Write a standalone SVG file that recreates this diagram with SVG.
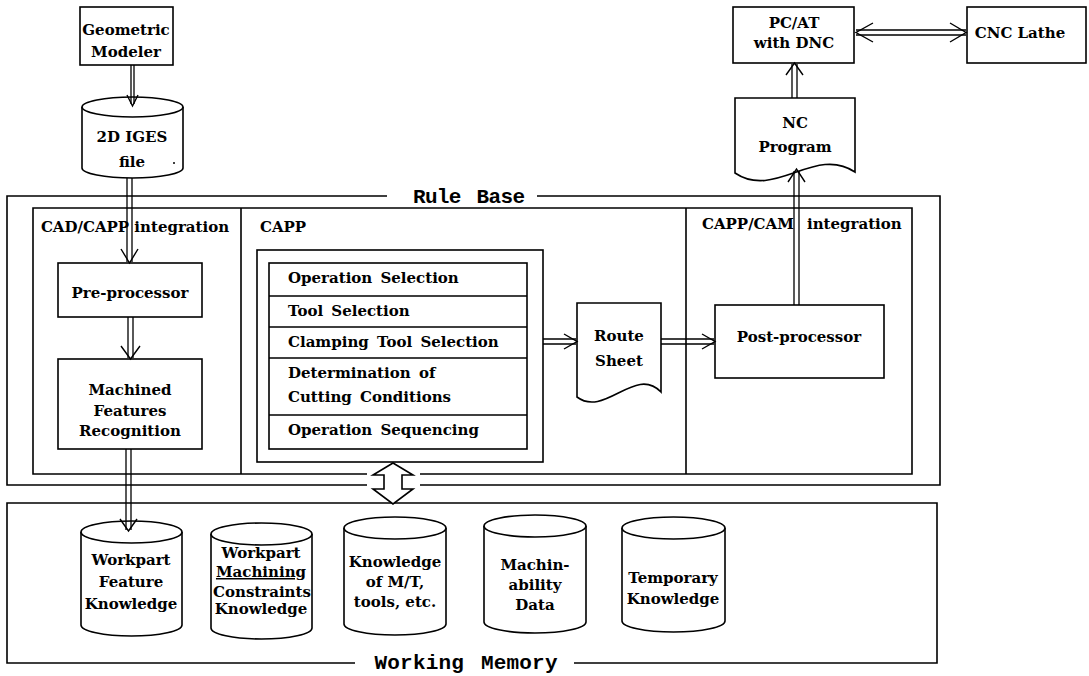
<svg xmlns="http://www.w3.org/2000/svg" width="1089" height="676" viewBox="0 0 1089 676">
  <style>
    .box { fill: #fff; stroke: #000; stroke-width: 1.6; }
    .frame { fill: none; stroke: #000; stroke-width: 1.6; }
    .ln { fill: none; stroke: #000; stroke-width: 1.3; }
    .head { fill: none; stroke: #000; stroke-width: 1.4; stroke-linejoin: miter; }
    .t { font-family: "DejaVu Serif", "Liberation Serif", serif; font-weight: bold; font-size: 15px; text-anchor: middle; fill: #000; }
    .tl { font-family: "DejaVu Serif", "Liberation Serif", serif; font-weight: bold; font-size: 15px; text-anchor: start; fill: #000; word-spacing: 3px; }
    .big { font-family: "Liberation Mono", "DejaVu Sans Mono", monospace; font-weight: bold; font-size: 21px; text-anchor: middle; fill: #000; word-spacing: 4px; }
  </style>
  <rect width="1089" height="676" fill="#fff"/>

  <!-- Rule Base enclosure with its title -->
  <g id="rule-base">
    <path class="frame" d="M387,196 H7 V485 H367 M420,485 H940 V196 H537"/>
    <text class="big" x="469" y="203" textLength="112">Rule Base</text>
    <path class="frame" d="M367,474 H33 V208 H912 V474 H420"/>
    <path class="frame" d="M241,208 V474 M686,208 V474"/>
  </g>

  <g id="cad-capp-integration">
    <text class="t" x="135" y="232">CAD/CAPP integration</text>
  </g>
  <g id="capp">
    <text class="tl" x="260" y="232">CAPP</text>
  </g>
  <g id="capp-cam-integration">
    <text class="tl" x="702" y="229">CAPP/CAM</text>
    <text class="tl" x="807" y="229">integration</text>
  </g>

  <!-- Working Memory enclosure -->
  <g id="working-memory">
    <path class="frame" d="M355,663 H7 V503 H937 V663 H574"/>
    <text class="big" x="466" y="669" textLength="183">Working Memory</text>
  </g>

  <g id="geometric-modeler">
    <rect class="box" x="80" y="7" width="93" height="58"/>
    <text class="t" x="126" y="35">Geometric</text>
    <text class="t" x="126" y="57">Modeler</text>
  </g>

  <g id="iges-file">
    <path class="box" d="M82,107 V168 A50.5,10 0 0 0 183,168 V107"/>
    <ellipse class="box" cx="132.5" cy="107" rx="50.5" ry="10"/>
    <text class="t" x="132" y="142">2D IGES</text>
    <text class="t" x="132" y="167">file</text>
    <circle cx="174" cy="163" r="1" fill="#000"/>
  </g>

  <g id="pre-processor">
    <rect class="box" x="58" y="263" width="144" height="54"/>
    <text class="t" x="130" y="298">Pre-processor</text>
  </g>

  <g id="machined-features-recognition">
    <rect class="box" x="58" y="359" width="144" height="90"/>
    <text class="t" x="130" y="395">Machined</text>
    <text class="t" x="130" y="416">Features</text>
    <text class="t" x="130" y="436">Recognition</text>
  </g>

  <g id="capp-modules">
    <rect class="box" x="257" y="250" width="286" height="212"/>
    <rect class="box" x="269" y="263" width="258" height="186"/>
    <path class="frame" d="M269,296 H527 M269,327 H527 M269,358 H527 M269,415 H527"/>
    <text class="tl" x="288" y="283">Operation Selection</text>
    <text class="tl" x="288" y="316">Tool Selection</text>
    <text class="tl" x="288" y="347">Clamping Tool Selection</text>
    <text class="tl" x="288" y="378">Determination of</text>
    <text class="tl" x="288" y="402">Cutting Conditions</text>
    <text class="tl" x="288" y="435">Operation Sequencing</text>
  </g>

  <g id="route-sheet">
    <path class="box" d="M577,303 H661 V392 C635,365 605,418 577,397 Z"/>
    <text class="t" x="619" y="341">Route</text>
    <text class="t" x="619" y="366">Sheet</text>
  </g>

  <g id="post-processor">
    <rect class="box" x="715" y="305" width="169" height="73"/>
    <text class="t" x="799" y="342">Post-processor</text>
  </g>

  <g id="nc-program">
    <path class="box" d="M735,98 H855 V172 C815,145 775,200 735,173 Z"/>
    <text class="t" x="795" y="128">NC</text>
    <text class="t" x="795" y="152">Program</text>
  </g>

  <g id="pc-at-dnc">
    <rect class="box" x="733" y="7" width="121" height="56"/>
    <text class="t" x="794" y="28">PC/AT</text>
    <text class="t" x="794" y="48">with DNC</text>
  </g>

  <g id="cnc-lathe">
    <rect class="box" x="967" y="7" width="119" height="56"/>
    <text class="t" x="1020" y="38">CNC Lathe</text>
  </g>

  <!-- knowledge stores in working memory -->
  <g id="wm-workpart-feature">
    <path class="box" d="M81,532 V625 A50.5,11 0 0 0 182,625 V532"/>
    <ellipse class="box" cx="131.5" cy="532" rx="50.5" ry="11"/>
    <text class="t" x="131" y="565">Workpart</text>
    <text class="t" x="131" y="587">Feature</text>
    <text class="t" x="131" y="609">Knowledge</text>
  </g>
  <g id="wm-machining-constraints">
    <path class="box" d="M211,534 V628 A50.5,11 0 0 0 312,628 V534"/>
    <ellipse class="box" cx="261.5" cy="534" rx="50.5" ry="11"/>
    <text class="t" x="261" y="558">Workpart</text>
    <text class="t" x="261" y="577" text-decoration="underline">Machining</text>
    <text class="t" x="262" y="597">Constraints</text>
    <text class="t" x="261" y="614">Knowledge</text>
  </g>
  <g id="wm-machine-tools">
    <path class="box" d="M344,528 V624 A51,11 0 0 0 446,624 V528"/>
    <ellipse class="box" cx="395" cy="528" rx="51" ry="11"/>
    <text class="t" x="395" y="567">Knowledge</text>
    <text class="t" x="395" y="587">of M/T,</text>
    <text class="t" x="395" y="607">tools, etc.</text>
  </g>
  <g id="wm-machinability">
    <path class="box" d="M484,526 V622 A51,11 0 0 0 586,622 V526"/>
    <ellipse class="box" cx="535" cy="526" rx="51" ry="11"/>
    <text class="t" x="535" y="570">Machin-</text>
    <text class="t" x="535" y="590">ability</text>
    <text class="t" x="535" y="610">Data</text>
  </g>
  <g id="wm-temporary">
    <path class="box" d="M622,528 V621 A51.5,11 0 0 0 725,621 V528"/>
    <ellipse class="box" cx="673.5" cy="528" rx="51.5" ry="11"/>
    <text class="t" x="673" y="583">Temporary</text>
    <text class="t" x="673" y="604">Knowledge</text>
  </g>

  <!-- flow connectors: double-line arrows with open heads -->
  <g id="connectors">
    <path class="ln" d="M131,65 V104 M134,65 V104"/>
    <polyline class="head" points="127,95 132.5,106 138,95"/>

    <path class="ln" d="M127,178 V262 M132,178 V262"/>
    <polyline class="head" points="121,249 129.5,263 138,249"/>

    <path class="ln" d="M128,317 V358 M133,317 V358"/>
    <polyline class="head" points="121,346 130.5,359 140,346"/>

    <path class="ln" d="M126,449 V530 M131,449 V530"/>
    <polyline class="head" points="120,519 128.5,531 137,519"/>

    <path class="ln" d="M543,339 H576 M543,344 H576"/>
    <polyline class="head" points="564,334 577,341.5 564,349"/>

    <path class="ln" d="M661,339 H714 M661,344 H714"/>
    <polyline class="head" points="702,334 715,341.5 702,349"/>

    <path class="ln" d="M794,305 V171 M799,305 V171"/>
    <polyline class="head" points="788,182 796.5,169 805,182"/>

    <path class="ln" d="M792,98 V64 M797,98 V64"/>
    <polyline class="head" points="786,75 794.5,63 803,75"/>

    <path class="ln" d="M856,30 H966 M856,35 H966"/>
    <polyline class="head" points="873,23 856,32.5 873,42"/>
    <polyline class="head" points="950,23 966,32.5 950,42"/>

    <!-- exchange between rule base and working memory -->
    <polygon class="box" points="393,463 373,475 384,475 384,489 373,489 393,504 413,489 402,489 402,475 413,475"/>
  </g>
</svg>
